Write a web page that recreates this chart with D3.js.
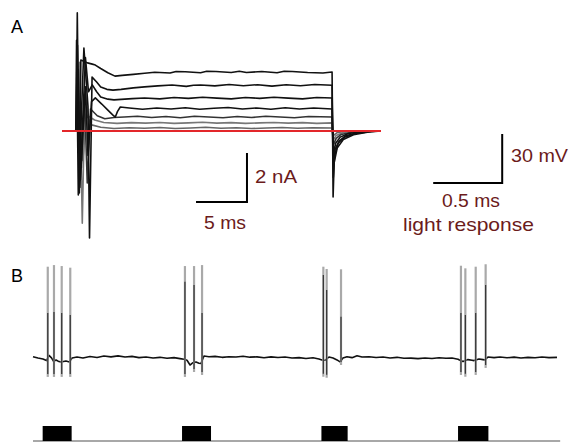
<!DOCTYPE html>
<html>
<head>
<meta charset="utf-8">
<title>A / B</title>
<script src="https://cdn.jsdelivr.net/npm/d3@7"></script>
<style>
body { margin:0; background:#fff; }
.lbl { font-family:"Liberation Sans", Arial, sans-serif; fill:#6b1b1b; font-size:19px; }
.panel { font-family:"Liberation Sans", Arial, sans-serif; fill:#000; font-size:18px; }
</style>
</head>
<body>
<script>
// ---- panel A : current steps, [time ms, current nA] ----
var trace1 = [[-1.6,0],[-0.2,0],[-0.1,4.82],[0.1,-2.53],[0.25,2.9],[0.9,2.78],[1.37,2.73],[1.67,2.69],[2.2,2.55],[2.9,2.38],[3.6,2.24],[4.3,2.27],[5.4,2.31],[6.5,2.36],[7.5,2.40],[9,2.37],[9.6,2.43],[10.5,2.42],[12,2.38],[12.6,2.44],[13.5,2.43],[15,2.39],[15.8,2.44],[16.5,2.39],[18,2.43],[19.5,2.38],[20.2,2.44],[21,2.43],[22.5,2.39],[24,2.37],[24.9,2.41],[24.95,0],[25.0,-2.69],[25.1,-1.3],[25.4,-0.7],[26.0,-0.35],[27.0,-0.15],[28.5,-0.04],[29.7,0]];
var trace2 = [[-1.6,0],[-0.25,0],[-0.17,3.7],[0.0,-2.61],[0.55,3.39],[0.95,1.0],[1.1,-4.37],[1.35,2.2],[1.8,2.0],[2.2,1.80],[2.8,1.70],[3.4,1.67],[4.2,1.70],[5.4,1.76],[6.5,1.80],[7.8,1.84],[9.2,1.88],[10.6,1.82],[11.3,1.87],[12,1.88],[13.4,1.84],[14.8,1.90],[16.2,1.85],[17.6,1.89],[19,1.83],[20.4,1.89],[21.8,1.85],[23.2,1.90],[24.9,1.87],[24.95,0],[25.02,-1.9],[25.15,-1.0],[25.5,-0.5],[26.1,-0.25],[27.2,-0.1],[28.8,-0.02],[29.5,0]];
var trace3 = [[-1.6,0],[-0.15,0],[-0.08,3.5],[0.15,-2.3],[0.7,3.0],[1.0,1.6],[1.37,1.88],[1.8,1.6],[2.2,1.39],[2.9,1.30],[3.5,1.27],[4.2,1.29],[5.3,1.32],[6.5,1.35],[8,1.31],[9.4,1.37],[10.8,1.33],[12.2,1.38],[13.6,1.34],[15,1.31],[16.4,1.37],[17.8,1.33],[19.2,1.38],[20.6,1.34],[22,1.31],[23.4,1.37],[24.9,1.35],[24.95,0],[25.05,-1.3],[25.2,-0.75],[25.6,-0.4],[26.3,-0.18],[27.5,-0.06],[29,0]];
var trace4 = [[-1.6,0],[-0.2,0],[-0.12,3.0],[0.2,-2.0],[0.7,1.8],[0.95,-1.0],[1.3,1.2],[1.67,1.35],[2.3,1.10],[2.9,0.85],[3.4,0.65],[3.63,0.57],[3.85,0.80],[4.12,0.98],[5,0.94],[6.3,0.89],[7.7,0.94],[9.1,0.90],[10.5,0.95],[11.9,0.89],[13.3,0.93],[14.7,0.96],[16.1,0.90],[17.5,0.94],[18.9,0.89],[20.3,0.95],[21.7,0.90],[23.1,0.94],[24.9,0.90],[24.95,0],[25.05,-0.9],[25.25,-0.5],[25.7,-0.25],[26.5,-0.1],[28,-0.02],[29,0]];
var trace5 = [[-1.6,0],[-0.1,0],[0.0,2.5],[0.3,-1.5],[0.6,1.5],[0.88,-2.12],[1.2,0.9],[1.86,0.62],[2.6,0.50],[3.5,0.55],[4.5,0.57],[5.8,0.60],[7.2,0.55],[8.6,0.59],[10,0.54],[11.4,0.60],[12.8,0.57],[14.2,0.54],[15.6,0.59],[17,0.55],[18.4,0.60],[19.8,0.57],[21.2,0.54],[22.6,0.59],[24.9,0.57],[24.95,0],[25.05,-0.55],[25.3,-0.3],[25.8,-0.14],[26.8,-0.05],[28,0]];
var trace6 = [[-1.6,0],[-0.05,0],[0.1,2.8],[0.39,-3.76],[0.65,1.6],[1.0,0.6],[1.6,0.45],[2.5,0.35],[3.8,0.31],[5.2,0.34],[6.6,0.32],[8,0.35],[9.4,0.31],[10.8,0.33],[12.2,0.36],[13.6,0.32],[15,0.34],[16.4,0.31],[17.8,0.33],[19.2,0.35],[20.6,0.32],[22,0.34],[23.4,0.31],[24.9,0.33],[24.95,0],[25.05,-0.35],[25.3,-0.18],[26,-0.06],[27,0]];
var trace7 = [[-1.6,0],[0,0],[0.15,1.5],[0.45,-1.2],[0.8,0.7],[1.3,0.25],[2.2,0.15],[3.5,0.10],[5,0.13],[6.5,0.11],[8,0.14],[9.5,0.10],[11,0.12],[12.5,0.15],[14,0.11],[15.5,0.13],[17,0.10],[18.5,0.12],[20,0.14],[21.5,0.11],[23,0.13],[24.9,0.12],[24.95,0],[25.05,-0.18],[25.4,-0.07],[26.3,0]];
var traceColors = ["#111","#111","#111","#111","#333","#777","#666"];
var holdLine = [[-1.6,0],[29.7,0]];

// ---- panel B : light evoked spikes, [time ms, mV] ----
var baseB = [[0,-64.8],[0.036,-65.6],[0.072,-66.2],[0.098,-67.2],[0.116,-64.0],[0.134,-65.5],[0.149,-67.6],[0.167,-66.8],[0.188,-67.8],[0.203,-68.1],[0.221,-67.8],[0.239,-67.5],[0.264,-68.0],[0.283,-65.6],[0.319,-65.0],[0.362,-65.6],[0.413,-64.7],[0.464,-65.3],[0.514,-64.4],[0.565,-64.9],[0.616,-64.3],[0.667,-65.0],[0.717,-64.6],[0.768,-65.4],[0.819,-65.0],[0.870,-65.6],[0.920,-65.2],[0.971,-65.8],[1.022,-65.4],[1.065,-66.0],[1.094,-66.4],[1.116,-67.0],[1.138,-69.9],[1.159,-68.5],[1.181,-68.0],[1.203,-68.8],[1.217,-69.0],[1.239,-64.4],[1.275,-64.8],[1.319,-64.6],[1.370,-65.2],[1.420,-64.8],[1.471,-65.0],[1.522,-64.5],[1.572,-65.1],[1.623,-64.9],[1.674,-65.5],[1.725,-64.9],[1.775,-65.3],[1.826,-65.0],[1.877,-65.6],[1.928,-65.4],[1.978,-65.9],[2.029,-65.5],[2.072,-66.2],[2.094,-66.8],[2.116,-67.0],[2.145,-65.0],[2.174,-65.6],[2.203,-66.8],[2.225,-68.0],[2.246,-65.6],[2.275,-64.8],[2.312,-65.4],[2.348,-64.2],[2.384,-65.0],[2.435,-64.8],[2.486,-65.3],[2.536,-65.0],[2.587,-65.6],[2.638,-65.2],[2.688,-65.8],[2.739,-65.7],[2.790,-66.0],[2.841,-65.6],[2.891,-65.9],[2.942,-65.5],[2.993,-65.8],[3.036,-65.6],[3.080,-66.4],[3.094,-67.0],[3.116,-67.8],[3.152,-66.6],[3.181,-67.0],[3.196,-67.2],[3.232,-66.2],[3.261,-66.6],[3.275,-66.8],[3.297,-65.0],[3.341,-65.4],[3.384,-65.0],[3.435,-65.5],[3.486,-65.1],[3.536,-65.6],[3.587,-65.2],[3.638,-65.5],[3.688,-65.0],[3.739,-65.4],[3.797,-65.2]];
var spikeT      = [0.107,0.152,0.208,0.270, 1.101,1.167,1.225, 2.104,2.128,2.232, 3.101,3.133,3.208,3.280];
var spikePeak   = [-9.7,-8.7,-9.3,-10.3, -9.3,-9.3,-8.7, -9.7,-11.1,-11.3, -9.1,-10.7,-9.7,-8.2];
var spikeDark   = [-38.1,-37.4,-38.1,-39.3, -18.9,-20.9,-38.1, -14.8,-24.0,-40.3, -38.1,-39.3,-38.1,-20.9];
var spikeTrough = [-77.2,-77.2,-77.2,-77.2, -77.2,-74.2,-76.0, -77.1,-77.7,-69.9, -76.0,-77.1,-76.0,-71.7];
var lightOn  = [0.07,1.08,2.09,3.08];
var lightOff = [0.28,1.29,2.28,3.30];
var stimEnd = 3.82;

const width = 570, height = 445;
const svg = d3.select("body").append("svg")
	.attr("width", width)
	.attr("height", height)
	.style("background", "#fff");

// scales
var xA = d3.scaleLinear().domain([-1.6, 29.7]).range([62, 381]);
var yA = d3.scaleLinear().domain([-4.5, 5]).range([241.25, 8.5]);
var xB = d3.scaleLinear().domain([0, 3.8]).range([33, 557.4]);
var yB = d3.scaleLinear().domain([-80, 20]).range([381.5, 218.2]);
var yL = d3.scaleLinear().domain([0, 1]).range([441, 426]);

var lineA = d3.line().x(d => xA(d[0])).y(d => yA(d[1]));
var lineB = d3.line().x(d => xB(d[0])).y(d => yB(d[1]));

// panel A traces
var traces = [trace1, trace2, trace3, trace4, trace5, trace6, trace7];
svg.append("g").selectAll("path")
	.data(traces.slice().reverse())
	.enter().append("path")
	.attr("d", lineA)
	.attr("fill", "none")
	.attr("stroke", (d, i) => traceColors[traces.length - 1 - i])
	.attr("stroke-width", 1.6)
	.attr("stroke-linejoin", "round");

svg.append("path")
	.attr("d", lineA(holdLine))
	.attr("fill", "none")
	.attr("stroke", "#e3262a")
	.attr("stroke-width", 2);

// scale bar A : 5 ms / 2 nA
var sbA = svg.append("g").attr("stroke", "#000").attr("stroke-width", 2).attr("fill", "none");
sbA.append("path").attr("d", d3.line()([[xA(11.55), yA(-2.9)], [xA(16.55), yA(-2.9)], [xA(16.55), yA(-0.9)]]));

svg.append("text").attr("class", "lbl").attr("x", 255).attr("y", 183)
	.attr("textLength", 42).attr("lengthAdjust", "spacingAndGlyphs").text("2 nA");
svg.append("text").attr("class", "lbl").attr("x", 204).attr("y", 229)
	.attr("textLength", 42).attr("lengthAdjust", "spacingAndGlyphs").text("5 ms");

// scale bar B : 0.5 ms / 30 mV
var sbB = svg.append("g").attr("stroke", "#000").attr("stroke-width", 2).attr("fill", "none");
sbB.append("path").attr("d", d3.line()([[xB(2.9), yB(41.5)], [xB(3.4), yB(41.5)], [xB(3.4), yB(71.5)]]));

svg.append("text").attr("class", "lbl").attr("x", 511).attr("y", 162)
	.attr("textLength", 57).attr("lengthAdjust", "spacingAndGlyphs").text("30 mV");
svg.append("text").attr("class", "lbl").attr("x", 442).attr("y", 207)
	.attr("textLength", 58).attr("lengthAdjust", "spacingAndGlyphs").text("0.5 ms");
svg.append("text").attr("class", "lbl").attr("x", 403).attr("y", 231)
	.attr("textLength", 131).attr("lengthAdjust", "spacingAndGlyphs").text("light response");

// panel B trace
svg.append("path")
	.attr("d", lineB(baseB))
	.attr("fill", "none")
	.attr("stroke", "#111")
	.attr("stroke-width", 1.6)
	.attr("stroke-linejoin", "round");

var spikes = spikeT.map((t, i) => ({t: t, peak: spikePeak[i], dark: spikeDark[i], trough: spikeTrough[i]}));
var sg = svg.append("g");
sg.selectAll(".sp").data(spikes).enter().append("line")
	.attr("x1", d => xB(d.t)).attr("x2", d => xB(d.t))
	.attr("y1", d => yB(d.trough)).attr("y2", d => yB(d.peak))
	.attr("stroke", "#a9a9a9").attr("stroke-width", 2.2);
sg.selectAll(".spd").data(spikes).enter().append("line")
	.attr("x1", d => xB(d.t)).attr("x2", d => xB(d.t))
	.attr("y1", d => yB(d.trough) - 3).attr("y2", d => yB(d.dark))
	.attr("stroke", "#333").attr("stroke-width", 1.2);

// light stimulus
svg.append("line")
	.attr("x1", xB(0)).attr("x2", xB(stimEnd))
	.attr("y1", yL(0)).attr("y2", yL(0))
	.attr("stroke", "#a8a8a8").attr("stroke-width", 2);
svg.append("g").selectAll("rect")
	.data(lightOn)
	.enter().append("rect")
	.attr("x", d => xB(d))
	.attr("width", (d, i) => xB(lightOff[i]) - xB(d))
	.attr("y", yL(1))
	.attr("height", yL(0) - yL(1))
	.attr("fill", "#000");

// panel letters
svg.append("text").attr("class", "panel").attr("x", 11).attr("y", 33).text("A");
svg.append("text").attr("class", "panel").attr("x", 11).attr("y", 282).text("B");
</script>
</body>
</html>
